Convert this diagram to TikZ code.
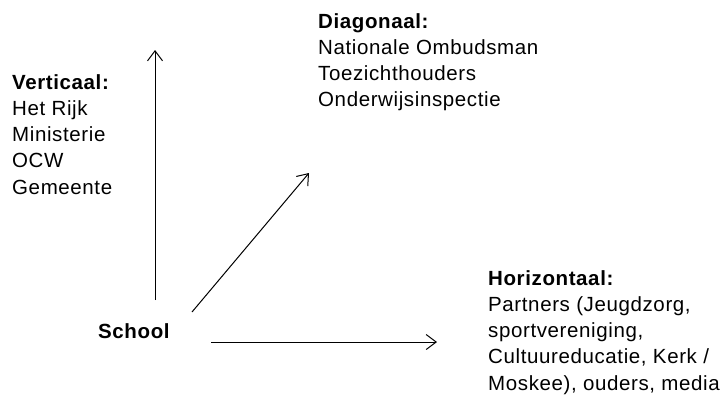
\documentclass[tikz,border=0pt]{standalone}
\usepackage{fontspec}
\setmainfont{Liberation Sans}[LetterSpace=3]
\usetikzlibrary{arrows.meta}
\begin{document}
\begin{tikzpicture}[x=1pt,y=-1pt,
  txt/.style={anchor=north west, inner sep=0pt, align=left,
    font=\fontsize{20.5}{26.3}\selectfont, text=black},
  arr/.style={line width=1pt, -{Straight Barb[length=10pt,width=15pt]}}]
\useasboundingbox (0,0) rectangle (728,394);
\node[txt] (vert) at (12,74) {\textbf{Verticaal:}\\Het Rijk\\Ministerie\\OCW\\Gemeente};
\node[txt] (diag) at (318,13) {\textbf{Diagonaal:}\\Nationale Ombudsman\\Toezichthouders\\Onderwijsinspectie};
\node[txt] (hor) at (488,270) {\textbf{Horizontaal:}\\Partners (Jeugdzorg,\\sportvereniging,\\Cultuureducatie, Kerk /\\Moskee), ouders, media};
\node[txt] (school) at (98,323) {\textbf{School}};
\coordinate (v0) at (155,300);
\coordinate (v1) at (155,50);
\coordinate (d0) at (192,312);
\coordinate (d1) at (309,173);
\coordinate (h0) at (211,342);
\coordinate (h1) at (437,342);
\draw[arr] (v0) -- (v1);
\draw[arr] (d0) -- (d1);
\draw[arr] (h0) -- (h1);
\end{tikzpicture}
\end{document}
